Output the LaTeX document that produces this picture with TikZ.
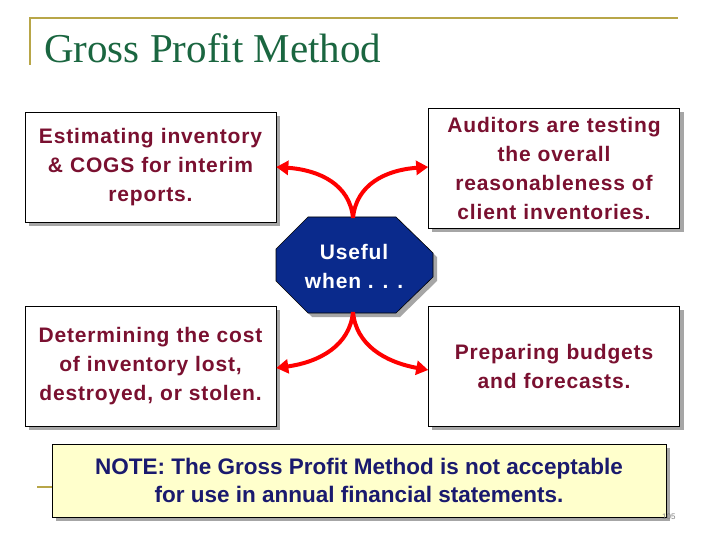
\documentclass[tikz,border=0pt]{standalone}
\usepackage{fontspec}
\setmainfont{Liberation Sans}
\newfontfamily\titlefont{Liberation Serif}
\usetikzlibrary{shapes.geometric,arrows.meta}
\definecolor{gold}{HTML}{B8A648}
\definecolor{ttl}{HTML}{1A6640}
\definecolor{maroon}{HTML}{7A1030}
\definecolor{navyb}{HTML}{0A2A8C}
\definecolor{notec}{HTML}{1A1A6E}
\definecolor{notefill}{HTML}{FFFFCC}
\tikzset{
 box/.style={draw=black, fill=white, line width=0.6pt, minimum width=251pt, text width=248pt, align=center, font=\bfseries\fontsize{21}{29}\selectfont\addfontfeature{LetterSpace=4}, text=maroon, inner sep=0pt},
 arr/.style={draw=red, line width=4pt, -{Triangle[length=12pt,width=14pt]}},
}
\begin{document}
\begin{tikzpicture}[x=1pt,y=-1pt]
\useasboundingbox (0,0) rectangle (720,540);
\fill[white] (0,0) rectangle (720,540);
% frame lines
\draw[gold, line width=2pt] (30,65) -- (30,18) -- (678,18);
\draw[gold, line width=2pt] (37,487) -- (665,487);
\node[anchor=base west, text=ttl, font=\titlefont\fontsize{41}{43}\selectfont, inner sep=0pt] (title) at (44,63) {Gross Profit Method};
% shadows
\fill[gray!70] (29,116) rectangle (280,226);
\fill[gray!70] (432,112) rectangle (684,232);
\fill[gray!70] (29,310) rectangle (280,430);
\fill[gray!70] (432,310) rectangle (684,430);
% boxes
\node[box, minimum height=110pt] (b1) at (150.5,167) {Estimating inventory\\\& COGS for interim\\reports.};
\node[box, minimum height=120pt] (b2) at (554,168) {Auditors are testing\\the overall\\reasonableness of\\client inventories.};
\node[box, minimum height=120pt] (b3) at (150.5,366) {Determining the cost\\of inventory lost,\\destroyed, or stolen.};
\node[box, minimum height=120pt] (b4) at (554,366) {Preparing budgets\\and forecasts.};
% octagon
\fill[gray!70] (312,221) -- (400,221) -- (437,257) -- (437,281) -- (400,317) -- (312,317) -- (280,285) -- (280,253) -- cycle;
\draw[black, fill=navyb, line width=0.6pt] (308,217) -- (396,217) -- (433,253) -- (433,277) -- (396,313) -- (308,313) -- (276,281) -- (276,249) -- cycle;
\node[text=white, font=\bfseries\fontsize{21}{29}\selectfont\addfontfeature{LetterSpace=4}, align=center] (oct) at (354,266) {Useful\\when . . .};
\coordinate (ot) at (353,218);
\coordinate (ob) at (353,312);
% arrows
\draw[arr] (ot) .. controls (350,185) and (320,170) .. (b1.east);
\draw[arr] (ot) .. controls (356,185) and (385,170) .. (b2.west |- b1.east);
\draw[arr] (ob) .. controls (350,345) and (320,362) .. (b3.east |- 0,368);
\draw[arr] (ob) .. controls (356,345) and (385,362) .. (b4.west |- 0,370);
% note
\fill[gray!70] (56,448) rectangle (670,521);
\node[draw=black, fill=notefill, line width=0.6pt, minimum width=614pt, minimum height=73pt, align=center, text=notec, font=\bfseries\fontsize{22.5}{28}\selectfont] (note) at (359,480.5) {NOTE: The Gross Profit Method is not acceptable\\for use in annual financial statements.};
\node[text=gray, font=\fontsize{8}{9}\selectfont, anchor=east] (pg) at (679,517) {105};
\end{tikzpicture}
\end{document}
